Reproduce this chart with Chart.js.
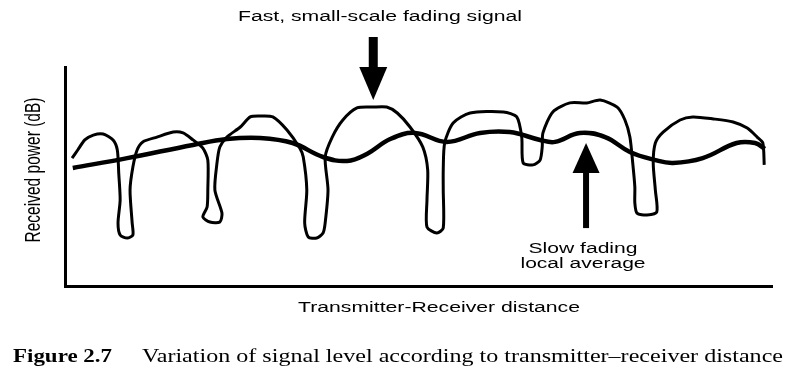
<!DOCTYPE html>
<html>
<head>
  <meta charset="utf-8">
  <title>Signal level vs distance</title>
  <script src="https://cdn.jsdelivr.net/npm/chart.js"></script>
  <style>
    body { margin: 0; background: #fff; }
    canvas { display: block; }
  </style>
</head>
<body>
  <canvas id="fading" width="800" height="377"></canvas>

  <script>
    // fast, small-scale fading trace (distance %, received power %), in drawing order
    const fastX = [1.0, 1.8, 2.8, 4.0, 5.4, 6.8, 7.4, 7.6, 7.8, 7.5, 7.8, 8.8, 9.6, 9.5, 9.2, 9.6, 10.2, 11.0, 13.0, 15.3,
      16.7, 18.1, 19.5, 20.2, 20.2, 20.1, 19.5, 20.5, 21.9, 22.2, 21.2, 21.5, 21.9, 22.9, 24.8, 26.2, 27.6, 29.4, 31.4, 33.2,
      33.7, 34.2, 33.9, 34.4, 35.6, 36.5, 36.8, 37.2, 36.8, 37.8, 39.3, 41.3, 43.6, 45.5, 47.0, 48.8, 50.6, 51.3, 51.2, 51.2,
      52.6, 53.5, 53.5, 53.5, 53.7, 54.9, 57.3, 62.0, 63.9, 64.6, 64.8, 66.2, 67.2, 67.5, 67.6, 69.0, 71.4, 73.8, 75.7, 78.1,
      79.2, 79.9, 80.3, 80.6, 80.6, 80.9, 82.3, 83.7, 83.5, 83.2, 83.5, 84.6, 87.0, 88.8, 91.7, 94.5, 96.5, 97.9, 98.7, 98.9];
    const fastY = [58.4, 62.1, 66.7, 68.9, 69.4, 66.7, 62.1, 51.6, 39.3, 28.8, 23.3, 21.9, 23.3, 28.8, 43.8, 54.3, 62.1, 65.8, 68.0, 70.3,
      69.9, 66.7, 63.0, 57.5, 43.8, 36.1, 31.5, 29.2, 29.2, 33.3, 43.8, 56.2, 63.5, 68.0, 72.6, 77.2, 77.6, 77.2, 71.2, 63.0,
      58.9, 43.8, 28.8, 22.4, 21.9, 24.2, 28.8, 43.8, 58.9, 68.0, 75.8, 81.3, 81.7, 81.7, 79.0, 72.6, 63.5, 53.0, 39.3, 26.9,
      24.2, 26.5, 43.8, 53.0, 65.3, 74.4, 79.0, 79.5, 77.2, 68.0, 56.2, 55.3, 57.5, 63.5, 69.9, 79.5, 83.6, 83.6, 84.9, 81.7,
      75.8, 68.0, 56.2, 45.2, 37.9, 33.3, 32.4, 33.8, 43.8, 56.2, 65.3, 70.3, 75.8, 77.2, 76.3, 74.9, 72.1, 68.0, 65.3, 55.3];

    // slow fading local average
    const slowX = [1.1, 8.8, 18.1, 22.9, 27.6, 32.2, 36.5, 39.9, 42.7, 46.0, 49.5, 54.0, 58.7, 62.9, 67.2, 69.3, 72.8, 76.4,
      79.9, 83.5, 86.0, 90.2, 95.0, 97.6, 99.0];
    const slowY = [53.9, 58.4, 64.4, 67.1, 67.6, 65.3, 58.9, 57.1, 60.3, 67.1, 69.9, 65.8, 69.9, 70.3, 66.7, 65.8, 69.9, 68.0,
      61.2, 57.5, 56.2, 58.4, 65.3, 65.3, 62.6];

    // arrows: x position and start / end power (tip is the end)
    const fastArrow = { x: 43.6, from: 113.7, to: 84.9 };
    const slowArrow = { x: 73.7, from: 26.9, to: 65.3 };

    const topLabel = 'Fast, small-scale fading signal';
    const slowLabel = ['Slow fading', 'local average'];
    const xTitle = 'Transmitter-Receiver distance';
    const yTitle = 'Received power (dB)';
    const captionNo = 'Figure 2.7';
    const captionText = 'Variation of signal level according to transmitter\u2013receiver distance';

    const toPoints = (xs, ys) => xs.map((x, i) => ({ x: x, y: ys[i] }));

    // text squeezed / stretched to a given width, the scan is wider than tall
    function fitText(ctx, str, x, y, font, width, align) {
      ctx.save();
      ctx.font = font;
      const sx = width / ctx.measureText(str).width;
      ctx.translate(x, y);
      ctx.scale(sx, 1);
      ctx.textAlign = align;
      ctx.textBaseline = 'alphabetic';
      ctx.fillText(str, 0, 0);
      ctx.restore();
    }

    function arrow(ctx, x, y0, y1, shaftW, headW, headL) {
      const dir = y1 > y0 ? 1 : -1;
      const base = y1 - dir * headL;
      ctx.save();
      ctx.fillStyle = '#000';
      ctx.fillRect(x - shaftW / 2, Math.min(y0, base), shaftW, Math.abs(base - y0) + 1);
      ctx.beginPath();
      ctx.moveTo(x - headW / 2, base);
      ctx.lineTo(x + headW / 2, base);
      ctx.lineTo(x, y1);
      ctx.closePath();
      ctx.fill();
      ctx.restore();
    }

    const annotate = {
      id: 'annotate',
      afterDraw(chart) {
        const ctx = chart.ctx;
        const xs = chart.scales.x, ys = chart.scales.y;
        ctx.fillStyle = '#000';
        const sans = '"Liberation Sans", Arial, sans-serif';
        const serif = '"Liberation Serif", "Times New Roman", serif';

        fitText(ctx, topLabel, 380, 21, '15.5px ' + sans, 284, 'center');
        arrow(ctx, xs.getPixelForValue(fastArrow.x), ys.getPixelForValue(fastArrow.from),
          ys.getPixelForValue(fastArrow.to), 9, 28, 33);
        arrow(ctx, xs.getPixelForValue(slowArrow.x), ys.getPixelForValue(slowArrow.from),
          ys.getPixelForValue(slowArrow.to), 6, 27, 30);

        fitText(ctx, slowLabel[0], 583, 253, '15.5px ' + sans, 109, 'center');
        fitText(ctx, slowLabel[1], 583, 268, '15.5px ' + sans, 125, 'center');

        fitText(ctx, xTitle, 439, 312, '15.5px ' + sans, 282, 'center');

        // y title, rotated; stretch goes across the glyphs
        ctx.save();
        ctx.font = '15.5px ' + sans;
        const len = ctx.measureText(yTitle).width;
        ctx.translate(40, 170);
        ctx.rotate(-Math.PI / 2);
        ctx.scale(145 / len, 1.4);
        ctx.textAlign = 'center';
        ctx.fillText(yTitle, 0, 0);
        ctx.restore();

        fitText(ctx, captionNo, 13, 362, 'bold 18px ' + serif, 99, 'left');
        fitText(ctx, captionText, 142, 362, '18px ' + serif, 641, 'left');
      }
    };

    const axisOpts = (min, max) => ({
      type: 'linear',
      min: min,
      max: max,
      grid: { display: false, drawTicks: false },
      ticks: { display: false },
      border: { display: true, color: '#000', width: 3 }
    });

    new Chart(document.getElementById('fading').getContext('2d'), {
      type: 'scatter',
      data: {
        datasets: [
          {
            label: 'Fast fading',
            data: toPoints(fastX, fastY),
            showLine: true,
            borderColor: '#000',
            borderWidth: 3,
            tension: 0.25,
            pointRadius: 0
          },
          {
            label: 'Local average',
            data: toPoints(slowX, slowY),
            showLine: true,
            borderColor: '#000',
            borderWidth: 4.5,
            tension: 0.4,
            pointRadius: 0
          }
        ]
      },
      options: {
        responsive: false,
        animation: false,
        layout: { padding: { left: 65, right: 28, top: 67, bottom: 91 } },
        plugins: { legend: { display: false }, tooltip: { enabled: false } },
        scales: { x: axisOpts(0, 100), y: axisOpts(0, 100) }
      },
      plugins: [annotate]
    });
  </script>
</body>
</html>
